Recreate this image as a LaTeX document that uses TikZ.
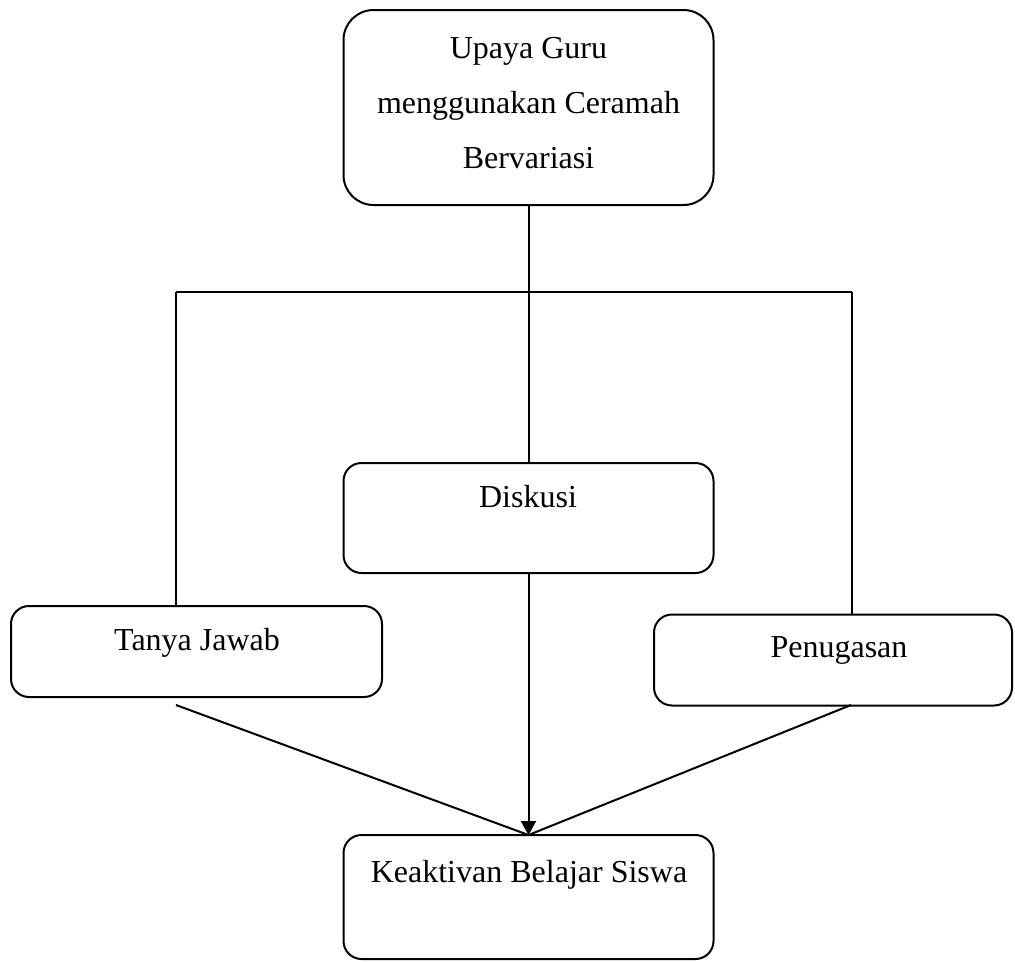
\documentclass[tikz,border=0pt]{standalone}
\usepackage{fontspec}
\setmainfont{Liberation Serif}
\usetikzlibrary{arrows.meta}
\begin{document}
\begin{tikzpicture}[x=1pt,y=-1pt,
  box/.style={draw,line width=2pt,inner sep=0pt,outer sep=0pt,rounded corners=18pt},
  lbl/.style={anchor=base,inner sep=0pt,font=\fontsize{32}{36}\selectfont},
  conn/.style={line width=2pt}]
\useasboundingbox (0,0) rectangle (1015,962);
% boxes
\node[box,rounded corners=30pt,minimum width=370pt,minimum height=195pt] (top) at (528.5,107.5) {};
\node[box,minimum width=370pt,minimum height=110pt] (disk) at (528.5,518) {};
\node[box,minimum width=371pt,minimum height=91pt] (tanya) at (196.5,651.5) {};
\node[box,minimum width=358pt,minimum height=91pt] (pen) at (833,660) {};
\node[box,minimum width=370pt,minimum height=124pt] (bot) at (528.5,897) {};
% texts
\node[lbl] (t1) at (528.5,58) {Upaya Guru};
\node[lbl] (t2) at (528.5,113) {menggunakan Ceramah};
\node[lbl] (t3) at (528.5,168) {Bervariasi};
\node[lbl] (tdisk) at (528,507) {Diskusi};
\node[lbl] (ttanya) at (197,650) {Tanya Jawab};
\node[lbl] (tpen) at (839,657) {Penugasan};
\node[lbl] (tbot) at (529,882) {Keaktivan Belajar Siswa};
% connectors
\coordinate (L) at (176,292);
\coordinate (R) at (852,292);
\coordinate (ld) at (176,705);
\coordinate (rd) at (851,705);
\draw[conn] (top.south) -- (disk.north);
\draw[conn] (L) -- (R);
\draw[conn] (L) -- (L |- tanya.north);
\draw[conn] (R) -- (R |- pen.north);
\draw[conn,-{Triangle[length=14pt,width=15pt]}] (disk.south) -- (bot.north);
\draw[conn] (ld) -- (bot.north);
\draw[conn] (rd) -- (bot.north);
\end{tikzpicture}
\end{document}
